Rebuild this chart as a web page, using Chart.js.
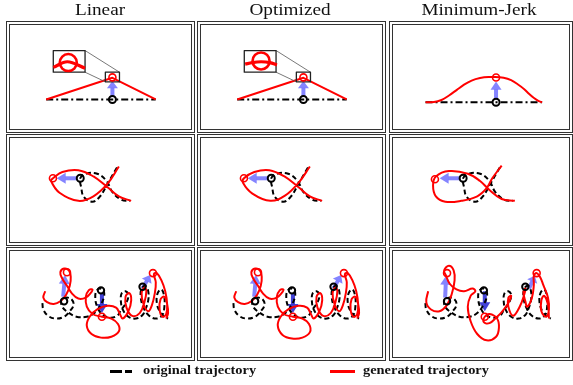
<!DOCTYPE html>
<html><head><meta charset="utf-8">
<script src="https://cdn.jsdelivr.net/npm/chart.js@4.4.1/dist/chart.umd.min.js"></script>
<style>
html,body{margin:0;padding:0;background:#fff}
body{width:573px;height:385px;position:relative;overflow:hidden;font-family:"Liberation Serif","Times New Roman",serif}
.panel{position:absolute}
.panel canvas{position:absolute;left:0;top:0}
.frame{position:absolute;left:0;top:0;width:100%;height:100%;border:4px double #333;box-sizing:border-box;pointer-events:none}
.title{position:absolute;top:2px;font-size:16px;line-height:16px;white-space:nowrap;transform:translateX(-50%) scaleX(1.2);color:#111}
.leg{position:absolute;top:364px;font-size:12px;line-height:12px;font-weight:bold;white-space:nowrap;transform-origin:0 0;transform:scaleX(1.2);color:#111}
.sw{position:absolute;height:3px}
</style></head>
<body>
<script>
// ---------- text ----------
const columnTitles = ['Linear', 'Optimized', 'Minimum-Jerk'];
const legendLabels = ['original trajectory', 'generated trajectory'];

// ---------- row 1 : straight reach ----------
const row1Original = [[33,28],[157,28]];
const row1OriginalPoint = [[108,28]];
const row1LinearGenerated = [[33,28],[108,55],[157,28]];
const row1OptimizedGenerated = [[33,28],[108,55],[157,28]];
const row1MinJerkGenerated = [[33,28],[42,28.3],[50,30.5],[58,35.5],[66,41.5],[74,47.5],[82,52],[91,54.8],[100,55.9],[107,56],[116,55.2],[124,52.5],[131,48],[138,42.5],[143,37.5],[148,33],[153,29.5],[157,28]];
const row1GeneratedPoint = [[108,55.5]];
const row1Arrow = [[108,31],[108,51]];
const row1InsetBox = [[41,62],[77,62],[77,89],[41,89],[41,62]];
const row1ZoomBox = [[100,50],[116,50],[116,62],[100,62],[100,50]];
const row1ConnectorA = [[77,89],[116,62]];
const row1ConnectorB = [[77,62],[100,50]];
const row1LinearZoomed = [[41,68],[57,75],[77,67]];
const row1LinearZoomedRing = [[58,74]];
const row1OptimizedZoomed = [[42,72],[50,74],[60,75],[70,74],[78,71]];
const row1OptimizedZoomedRing = [[60,76]];

// ---------- row 2 : loop ----------
const row2Original = [[112,81],[102,63],[94,49],[86,43],[77,48],[74,59],[73,69],[79,74],[91,74],[101,66],[107,54],[117,45],[126,44]];
const row2OriginalPoint = [[73,69]];
const row2LinearGenerated = [[114,82],[102,63],[87,49],[71,44],[51,53],[42,66],[44,69],[54,76],[71,78],[87,71],[102,59],[114,49],[127,44]];
const row2OptimizedGenerated = [[114,82],[102,64],[88,50],[72,44],[53,52],[43,64],[44,69],[55,76],[71,78],[87,71],[102,59],[114,49],[127,44]];
const row2MinJerkGenerated = [[114,83],[104,69],[98,58],[88,49],[71,44],[54,43],[44,49],[41,61],[44,71],[58,77],[78,74],[91,66],[101,56],[114,46],[128,44]];
const row2LinearPoint = [[44,69]];
const row2OptimizedPoint = [[44,69]];
const row2MinJerkPoint = [[43,68]];
const row2Arrow = [[70,69],[48,69]];

// ---------- row 3 : coil ----------
const row3Original = [[33,58],[34,51],[39,44],[47,41],[56,43],[62,49],[66,56],[64,62],[58,64],[53,61],[54,54],[60,48],[69,43],[80,43],[88,47],[94,55],[98,64],[98,71],[94,74],[90,71],[89,63],[91,54],[96,46],[104,42],[112,44],[116,50],[122,59],[124,67],[121,71],[117,69],[116,61],[118,51],[124,43],[132,41],[139,45],[142,51],[145,61],[145,71],[142,77],[138,74],[137,65],[140,53],[146,44],[154,41],[160,45],[162,53],[162,65],[159,73],[155,69],[154,59],[157,49],[162,43],[166,41]];
const row3OriginalPoints = [[56,60],[95,72],[139,76]];
const row3LinearGenerated = [[36,71],[34,64],[38,59],[45,57],[52,60],[58,67],[62,77],[63,87],[61,94],[56,96],[52,92],[54,85],[59,77],[64,69],[71,63],[79,64],[84,69],[86,73],[82,72],[79,65],[80,54],[86,46],[96,43],[106,41],[113,35],[114,27],[106,21],[95,20],[85,24],[80,33],[83,43],[91,51],[102,55],[111,53],[115,46],[118,41],[124,49],[127,61],[125,69],[121,65],[122,53],[128,44],[136,47],[141,59],[143,71],[141,75],[138,69],[140,57],[145,49],[149,56],[152,69],[153,81],[151,90],[154,91],[159,83],[163,71],[165,57],[164,46],[160,43],[157,51],[158,62],[162,65],[165,57],[166,47],[164,41]];
const row3OptimizedGenerated = [[36,71],[34,64],[38,59],[45,57],[52,60],[58,67],[62,77],[63,87],[61,94],[56,96],[52,92],[54,85],[59,77],[64,69],[71,63],[79,64],[84,69],[86,73],[82,72],[79,65],[80,54],[86,46],[96,43],[106,41],[113,35],[114,26],[106,20],[95,19],[85,23],[80,33],[83,43],[91,51],[102,55],[111,53],[115,46],[118,41],[124,49],[127,61],[125,69],[121,65],[122,53],[128,44],[136,47],[141,59],[143,71],[141,75],[138,69],[140,57],[145,49],[149,56],[152,69],[153,81],[151,90],[154,91],[159,83],[163,71],[165,57],[164,46],[160,43],[157,51],[158,62],[162,65],[165,57],[166,47],[164,41]];
const row3MinJerkGenerated = [[36,71],[34,59],[39,51],[48,49],[56,56],[61,68],[64,83],[63,94],[58,99],[53,94],[55,88],[59,79],[66,73],[74,71],[83,74],[86,71],[81,66],[78,54],[81,38],[88,24],[98,17],[108,21],[111,31],[109,41],[101,46],[96,43],[95,37],[101,36],[108,42],[114,48],[121,58],[124,66],[121,64],[121,54],[126,44],[133,54],[138,68],[139,74],[137,70],[139,60],[141,54],[146,64],[148,78],[148,88],[151,91],[155,86],[158,78],[163,64],[164,51],[161,43],[156,49],[156,61],[159,66],[163,56],[164,41]];
const row3LinearPoints = [[59,92],[96,43],[150,91]];
const row3OptimizedPoints = [[59,92],[96,43],[150,91]];
const row3MinJerkPoints = [[56,91],[96,43],[151,91]];
const row3LinearArrows = [[[55,65],[57,89]],[[96,69],[96,47]],[[139,74],[147,89]]];
const row3OptimizedArrows = [[[55,65],[57,89]],[[96,69],[96,47]],[[139,74],[147,89]]];
const row3MinJerkArrows = [[[54,64],[55,88]],[[96,71],[96,49]],[[143,74],[149,88]]];

// ---------- layout (not data) ----------
const colBoxes = [{left:6,w:189},{left:197,w:189},{left:389,w:184}];
const rowBoxes = [{top:21,h:112},{top:134,h:112},{top:247,h:114}];
const RED = '#ff0000', BLACK = '#000000';
const ARROW_LIGHT = 'rgba(110,110,255,0.85)', ARROW_DARK = 'rgba(45,45,210,0.9)';

const pts = a => a.map(([x,y]) => ({x, y}));
function lineDS(a, color, width, dash, tension, mode){
  return {data: pts(a), showLine: true, borderColor: color, borderWidth: width, borderDash: dash || [],
    pointRadius: 0, pointHoverRadius: 0, tension: tension || 0, cubicInterpolationMode: mode || 'default',
    fill: false, borderCapStyle: 'butt', borderJoinStyle: 'round'};
}
function ringDS(a, color, r, bw){
  return {data: pts(a), showLine: false, pointRadius: r, pointHoverRadius: r, pointBorderWidth: bw,
    pointBorderColor: color, pointBackgroundColor: 'rgba(0,0,0,0)'};
}
function arrowPlugin(list){
  return {id: 'arrows', beforeDatasetsDraw(chart){
    const ctx = chart.ctx, xs = chart.scales.x, ys = chart.scales.y;
    list.forEach(a => {
      const x0 = xs.getPixelForValue(a.from[0]), y0 = ys.getPixelForValue(a.from[1]);
      const x1 = xs.getPixelForValue(a.to[0]), y1 = ys.getPixelForValue(a.to[1]);
      const ang = Math.atan2(y1 - y0, x1 - x0), L = Math.hypot(x1 - x0, y1 - y0);
      const hl = Math.min(9, L * 0.45), hw = 5.5;
      ctx.save(); ctx.translate(x0, y0); ctx.rotate(ang); ctx.fillStyle = a.color;
      ctx.fillRect(0, -2, L - hl + 0.5, 4);
      ctx.beginPath(); ctx.moveTo(L, 0); ctx.lineTo(L - hl, -hw); ctx.lineTo(L - hl, hw); ctx.closePath(); ctx.fill();
      ctx.restore();
    });
  }};
}
function panel(r, c, datasets, arrows){
  const box = colBoxes[c], row = rowBoxes[r];
  const div = document.createElement('div');
  div.className = 'panel';
  div.style.cssText = `left:${box.left}px;top:${row.top}px;width:${box.w}px;height:${row.h}px`;
  const cv = document.createElement('canvas');
  cv.width = box.w; cv.height = row.h; cv.style.width = box.w + 'px'; cv.style.height = row.h + 'px';
  div.appendChild(cv);
  const fr = document.createElement('div'); fr.className = 'frame'; div.appendChild(fr);
  document.body.appendChild(div);
  new Chart(cv, {
    type: 'scatter',
    data: {datasets},
    options: {
      animation: false, responsive: false, devicePixelRatio: 1, events: [],
      layout: {padding: 0},
      plugins: {legend: {display: false}, tooltip: {enabled: false}},
      scales: {
        x: {type: 'linear', display: false, min: 0, max: box.w},
        y: {type: 'linear', display: false, min: 0, max: row.h}
      }
    },
    plugins: [arrowPlugin(arrows)]
  });
}

// row 1
const row1Gen = [row1LinearGenerated, row1OptimizedGenerated, row1MinJerkGenerated];
const row1Zoomed = [row1LinearZoomed, row1OptimizedZoomed, null];
const row1ZoomRing = [row1LinearZoomedRing, row1OptimizedZoomedRing, null];
for (let c = 0; c < 3; c++){
  const ds = [
    ringDS(row1GeneratedPoint, RED, 3.5, 1.6),
    ringDS(row1OriginalPoint, BLACK, 3.5, 2),
  ];
  if (row1Zoomed[c]){
    ds.push(ringDS(row1ZoomRing[c], RED, 8.5, 2.6));
    ds.push(lineDS(row1Zoomed[c], RED, 3.2, [], 0.35));
    ds.push(lineDS(row1InsetBox, '#222', 1.3));
    ds.push(lineDS(row1ZoomBox, '#222', 1.3));
    ds.push(lineDS(row1ConnectorA, '#555', 0.8));
    ds.push(lineDS(row1ConnectorB, '#555', 0.8));
  }
  ds.push(c === 2 ? lineDS(row1Gen[c], RED, 2, [], 0.4, 'monotone') : lineDS(row1Gen[c], RED, 2));
  ds.push(lineDS(row1Original, BLACK, 2, [7,3,2,3]));
  panel(0, c, ds, [{from: row1Arrow[0], to: row1Arrow[1], color: ARROW_LIGHT}]);
}
// row 2
const row2Gen = [row2LinearGenerated, row2OptimizedGenerated, row2MinJerkGenerated];
const row2Pts = [row2LinearPoint, row2OptimizedPoint, row2MinJerkPoint];
for (let c = 0; c < 3; c++){
  panel(1, c, [
    ringDS(row2Pts[c], RED, 3.5, 1.6),
    ringDS(row2OriginalPoint, BLACK, 3.5, 2),
    lineDS(row2Gen[c], RED, 2, [], 0.4),
    lineDS(row2Original, BLACK, 2, [5,3], 0.4)
  ], [{from: row2Arrow[0], to: row2Arrow[1], color: ARROW_LIGHT}]);
}
// row 3
const row3Gen = [row3LinearGenerated, row3OptimizedGenerated, row3MinJerkGenerated];
const row3Pts = [row3LinearPoints, row3OptimizedPoints, row3MinJerkPoints];
const row3Arr = [row3LinearArrows, row3OptimizedArrows, row3MinJerkArrows];
for (let c = 0; c < 3; c++){
  panel(2, c, [
    ringDS(row3Pts[c], RED, 3.5, 1.6),
    ringDS(row3OriginalPoints, BLACK, 3.2, 2),
    lineDS(row3Gen[c], RED, 2, [], 0.4),
    lineDS(row3Original, BLACK, 2, [5,3], 0.4)
  ], row3Arr[c].map((a, i) => ({from: a[0], to: a[1], color: i === 1 ? ARROW_DARK : ARROW_LIGHT})));
}

// titles
const titleCenters = [100, 290, 479];
columnTitles.forEach((t, i) => {
  const d = document.createElement('div'); d.className = 'title'; d.textContent = t;
  d.style.left = titleCenters[i] + 'px'; document.body.appendChild(d);
});
// legend
function sw(left, width, color){ const s = document.createElement('div'); s.className = 'sw';
  s.style.cssText += `left:${left}px;top:370px;width:${width}px;background:${color}`; document.body.appendChild(s); }
sw(110, 12, BLACK); sw(125, 7, BLACK); sw(330, 25, RED);
[[143, legendLabels[0]], [363, legendLabels[1]]].forEach(([x, t]) => {
  const d = document.createElement('div'); d.className = 'leg'; d.textContent = t; d.style.left = x + 'px';
  document.body.appendChild(d);
});
</script>
</body></html>
